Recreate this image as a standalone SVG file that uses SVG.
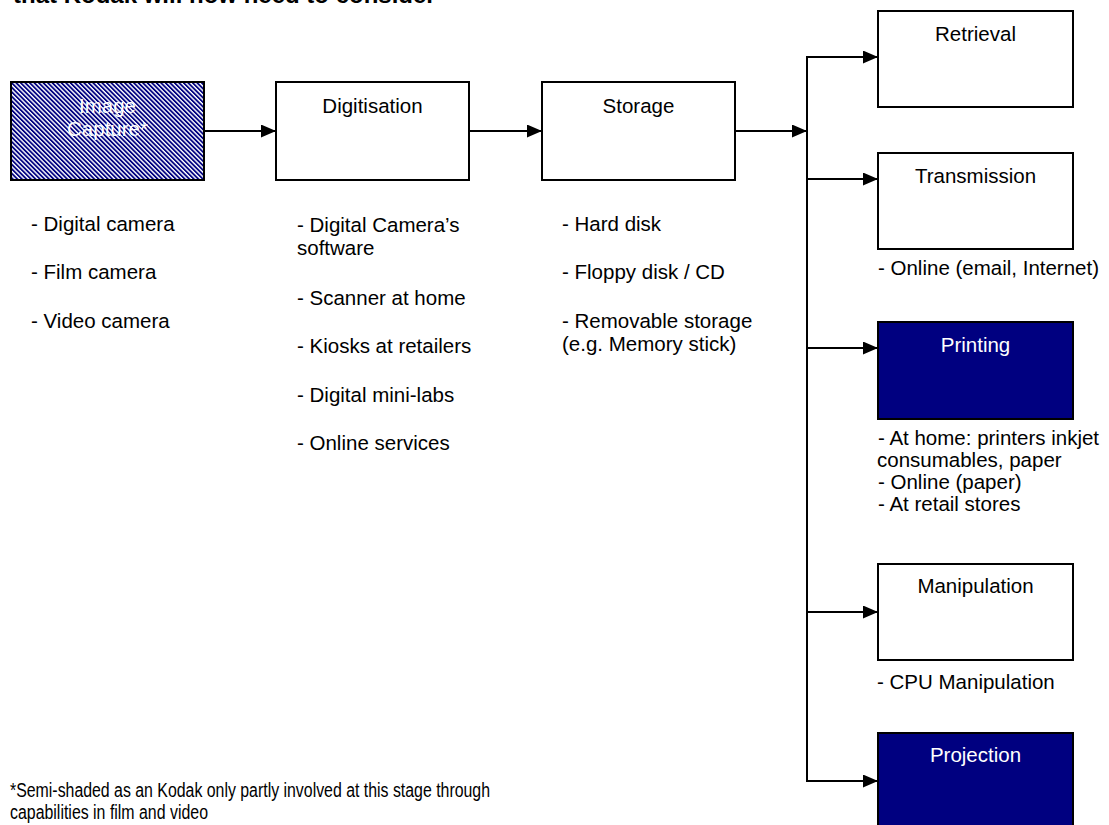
<svg xmlns="http://www.w3.org/2000/svg" width="1109" height="825" viewBox="0 0 1109 825">
<style>
text{font-family:"Liberation Sans",Arial,sans-serif;font-size:20.5px;fill:#000}
.lbl{text-anchor:middle}
.wt{fill:#fff}
.box{fill:#fff;stroke:#000;stroke-width:2}
.navy{fill:#000080;stroke:#000;stroke-width:2}
.hatch{fill:url(#hatch);stroke:#000;stroke-width:2}
.conn{fill:none;stroke:#000;stroke-width:2}
.fn{font-size:20px}
</style>
<defs>
<pattern id="hatch" patternUnits="userSpaceOnUse" width="3.2" height="3.2" patternTransform="rotate(-45)">
<rect x="0" y="0" width="3.2" height="3.2" fill="#fff"/>
<rect x="0" y="0" width="1.8" height="3.2" fill="#000080"/>
</pattern>
<marker id="arr" markerUnits="userSpaceOnUse" markerWidth="15" markerHeight="13" refX="15" refY="6.5" orient="auto">
<path d="M0,0 L15,6.5 L0,13 z" fill="#000"/>
</marker>
</defs>
<rect width="1109" height="825" fill="#fff"/>
<text x="13" y="3" style="font-size:24px;font-weight:bold">that Kodak will now need to consider</text>
<g id="connectors">
<line class="conn" x1="204" y1="131" x2="276" y2="131" marker-end="url(#arr)"/>
<line class="conn" x1="469" y1="131" x2="542" y2="131" marker-end="url(#arr)"/>
<line class="conn" x1="735" y1="131" x2="807" y2="131" marker-end="url(#arr)"/>
<line class="conn" x1="807" y1="56" x2="807" y2="782"/>
<line class="conn" x1="806" y1="57" x2="878" y2="57" marker-end="url(#arr)"/>
<line class="conn" x1="806" y1="179" x2="878" y2="179" marker-end="url(#arr)"/>
<line class="conn" x1="806" y1="348" x2="878" y2="348" marker-end="url(#arr)"/>
<line class="conn" x1="806" y1="612" x2="878" y2="612" marker-end="url(#arr)"/>
<line class="conn" x1="806" y1="781" x2="878" y2="781" marker-end="url(#arr)"/>
</g>
<g id="image-capture">
<rect class="hatch" x="11" y="82" width="193" height="98"/>
<text class="lbl wt" x="107.5" y="113">Image</text>
<text class="lbl wt" x="107.5" y="136">Capture*</text>
</g>
<g id="image-capture-notes">
<text x="31" y="231">- Digital camera</text>
<text x="31" y="279">- Film camera</text>
<text x="31" y="328">- Video camera</text>
</g>
<g id="digitisation">
<rect class="box" x="276" y="82" width="193" height="98"/>
<text class="lbl" x="372.5" y="113">Digitisation</text>
</g>
<g id="digitisation-notes">
<text x="297" y="232">- Digital Camera’s</text>
<text x="297" y="255">software</text>
<text x="297" y="305">- Scanner at home</text>
<text x="297" y="353">- Kiosks at retailers</text>
<text x="297" y="402">- Digital mini-labs</text>
<text x="297" y="450">- Online services</text>
</g>
<g id="storage">
<rect class="box" x="542" y="82" width="193" height="98"/>
<text class="lbl" x="638.5" y="113">Storage</text>
</g>
<g id="storage-notes">
<text x="562" y="231">- Hard disk</text>
<text x="562" y="279">- Floppy disk / CD</text>
<text x="562" y="328">- Removable storage</text>
<text x="562" y="351">(e.g. Memory stick)</text>
</g>
<g id="retrieval">
<rect class="box" x="878" y="11" width="195" height="96"/>
<text class="lbl" x="975.5" y="41">Retrieval</text>
</g>
<g id="transmission">
<rect class="box" x="878" y="153" width="195" height="96"/>
<text class="lbl" x="975.5" y="183">Transmission</text>
<text x="878" y="275">- Online (email, Internet)</text>
</g>
<g id="printing">
<rect class="navy" x="878" y="322" width="195" height="97"/>
<text class="lbl wt" x="975.5" y="352">Printing</text>
<text x="878" y="445">- At home: printers inkjet</text>
<text x="877" y="467">consumables, paper</text>
<text x="878" y="489">- Online (paper)</text>
<text x="878" y="511">- At retail stores</text>
</g>
<g id="manipulation">
<rect class="box" x="878" y="564" width="195" height="96"/>
<text class="lbl" x="975.5" y="593">Manipulation</text>
<text x="877" y="689">- CPU Manipulation</text>
</g>
<g id="projection">
<rect class="navy" x="878" y="733" width="195" height="100"/>
<text class="lbl wt" x="975.5" y="762">Projection</text>
</g>
<g id="footnote">
<text class="fn" x="10" y="797" textLength="480" lengthAdjust="spacingAndGlyphs">*Semi-shaded as an Kodak only partly involved at this stage through</text>
<text class="fn" x="10" y="819" textLength="198" lengthAdjust="spacingAndGlyphs">capabilities in film and video</text>
</g>
</svg>
